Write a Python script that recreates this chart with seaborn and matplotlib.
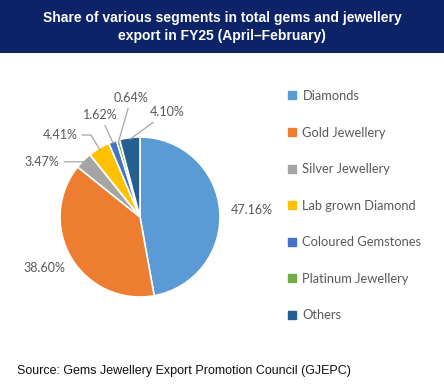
import numpy as np
import matplotlib
matplotlib.use("Agg")
import matplotlib.pyplot as plt
from matplotlib.patches import Rectangle
from matplotlib.lines import Line2D
import seaborn as sns

categories = ["Diamonds", "Gold Jewellery", "Silver Jewellery", "Lab grown Diamond",
              "Coloured Gemstones", "Platinum Jewellery", "Others"]
shares = [47.16, 38.60, 3.47, 4.41, 1.62, 0.64, 4.10]
colors = ["#5B9BD5", "#ED7D31", "#A5A5A5", "#FFC000", "#4472C4", "#70AD47", "#255E91"]
title = "Share of various segments in total gems and jewellery\nexport in FY25 (April\u2013February)"
source = "Source: Gems Jewellery Export Promotion Council (GJEPC)"

# label layout (x, y in pie-radius units) and leader style
label_pos = [(1.40, 0.09), (-1.20, -0.64), (-1.225, 0.69), (-1.0, 1.025),
             (-0.5, 1.275), (-0.11, 1.49), (0.34, 1.31)]
leader = [None, None, "angle", "angle", "straight", "straight", "straight"]

sns.set_theme(style="white")
plt.rcParams["font.family"] = ["Lato", "DejaVu Sans"]

W, H = 444, 388
fig = plt.figure(figsize=(W / 100, H / 100), dpi=100)
fig.patch.set_facecolor("white")
R = 80.0
cx, cy = 140.0, 217.0
ax = fig.add_axes([0, 0, 1, 1])

wedges, _ = ax.pie(shares, colors=colors, startangle=90, counterclock=False,
                   radius=1.0, center=(0, 0),
                   wedgeprops=dict(edgecolor="white", linewidth=1.2))
ax.set_aspect("auto")
ax.set_xlim(-cx / R, (W - cx) / R)
ax.set_ylim(-(H - cy) / R, cy / R)
ax.axis("off")

txt_color = "#595959"
line_color = "#A6A6A6"
for w, val, pos, lead in zip(wedges, shares, label_pos, leader):
    mid = np.deg2rad((w.theta1 + w.theta2) / 2)
    edge = (0.98 * np.cos(mid), 0.98 * np.sin(mid))
    lab = f"{val:.2f}%"
    if lead is None:
        ax.text(pos[0], pos[1], lab, ha="center", va="center", fontsize=9.0, color=txt_color)
    else:
        cs = ("angle,angleA=0,angleB=%f,rad=0" % np.rad2deg(mid)) if lead == "angle" else "arc3"
        ax.annotate(lab, xy=edge, xytext=pos, textcoords="data", ha="center", va="center",
                    fontsize=9.0, color=txt_color,
                    arrowprops=dict(arrowstyle="-", color=line_color, lw=0.9,
                                    connectionstyle=cs, shrinkA=1, shrinkB=0))

handles = [Line2D([0], [0], marker="s", linestyle="none", markersize=6,
                  markerfacecolor=c, markeredgecolor=c) for c in colors]
leg = fig.legend(handles, categories, loc="upper left",
                 bbox_to_anchor=(287 / W, 1 - 90 / H), frameon=False,
                 fontsize=9.3, labelcolor=txt_color, handlelength=0.8,
                 handletextpad=0.4, labelspacing=1.9, borderaxespad=0, borderpad=0)

# banner
fig.patches.append(Rectangle((0, 1 - 53 / H), 1, 53 / H, transform=fig.transFigure,
                             facecolor="#0D2367", edgecolor="none", zorder=0))
fig.text(0.5, 1 - 27 / H, title, ha="center", va="center", color="white",
         fontsize=10.0, fontweight="bold", family=["Liberation Sans", "DejaVu Sans"],
         linespacing=1.4)

fig.text(17 / W, 1 - 371 / H, source, ha="left", va="center", color="#111111",
         fontsize=9.0, family=["Liberation Sans", "DejaVu Sans"])

fig.savefig("out.png", dpi=100)
